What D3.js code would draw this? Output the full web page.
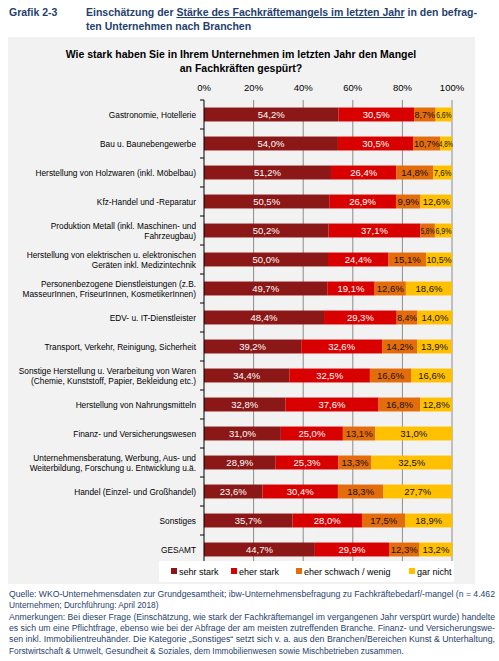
<!DOCTYPE html>
<meta charset="utf-8">
<script src="https://d3js.org/d3.v7.min.js"></script>
<style>
  body { margin: 0; background: #fff; font-family: "Liberation Sans", Arial, sans-serif; }
</style>
<div id="chart"></div>
<script>
    var branchen = ["Gastronomie, Hotellerie", "Bau u. Baunebengewerbe", "Herstellung von Holzwaren (inkl. Möbelbau)",
        "Kfz-Handel und -Reparatur", "Produktion Metall (inkl. Maschinen- und|Fahrzeugbau)",
        "Herstellung von elektrischen u. elektronischen|Geräten inkl. Medizintechnik",
        "Personenbezogene Dienstleistungen (z.B.|MasseurInnen, FriseurInnen, KosmetikerInnen)",
        "EDV- u. IT-Dienstleister", "Transport, Verkehr, Reinigung, Sicherheit",
        "Sonstige Herstellung u. Verarbeitung von Waren|(Chemie, Kunststoff, Papier, Bekleidung etc.)",
        "Herstellung von Nahrungsmitteln", "Finanz- und Versicherungswesen",
        "Unternehmensberatung, Werbung, Aus- und|Weiterbildung, Forschung u. Entwicklung u.ä.",
        "Handel (Einzel- und Großhandel)", "Sonstiges", "GESAMT"];
    var sehrStark = [54.2, 54.0, 51.2, 50.5, 50.2, 50.0, 49.7, 48.4, 39.2, 34.4, 32.8, 31.0, 28.9, 23.6, 35.7, 44.7];
    var eherStark = [30.5, 30.5, 26.4, 26.9, 37.1, 24.4, 19.1, 29.3, 32.6, 32.5, 37.6, 25.0, 25.3, 30.4, 28.0, 29.9];
    var eherSchwach = [8.7, 10.7, 14.8, 9.9, 5.8, 15.1, 12.6, 8.4, 14.2, 16.6, 16.8, 13.1, 13.3, 18.3, 17.5, 12.3];
    var garNicht = [6.6, 4.8, 7.6, 12.6, 6.9, 10.5, 18.6, 14.0, 13.9, 16.6, 12.8, 31.0, 32.5, 27.7, 18.9, 13.2];
    var kategorien = ["sehr stark", "eher stark", "eher schwach / wenig", "gar nicht"];
    var farben = ["#8b1717", "#d90000", "#e46c0a", "#ffc000"];
    var tickWerte = [0, 20, 40, 60, 80, 100];

    var W = 499, H = 661;
    var svg = d3.select("#chart").append("svg").attr("width", W).attr("height", H);

    // header
    svg.append("text").attr("x", 9).attr("y", 16).attr("font-size", 10.5).attr("font-weight", "bold")
        .attr("fill", "#1f3f6e").text("Grafik 2-3");
    var t1 = svg.append("text").attr("x", 86).attr("y", 16).attr("font-size", 10.5).attr("font-weight", "bold").attr("fill", "#1f3f6e");
    t1.append("tspan").text("Einschätzung der ");
    t1.append("tspan").attr("text-decoration", "underline").text("Stärke des Fachkräftemangels im letzten Jahr");
    t1.append("tspan").text(" in den befrag-");
    svg.append("text").attr("x", 86).attr("y", 30).attr("font-size", 10.5).attr("font-weight", "bold")
        .attr("fill", "#1f3f6e").text("ten Unternehmen nach Branchen");

    // panel
    svg.append("rect").attr("x", 8).attr("y", 37).attr("width", 467).attr("height", 547).attr("fill", "#f2f2f2");
    svg.append("text").attr("x", 241).attr("y", 58).attr("text-anchor", "middle").attr("font-size", 10.5)
        .attr("font-weight", "bold").text("Wie stark haben Sie in Ihrem Unternehmen im letzten Jahr den Mangel");
    svg.append("text").attr("x", 241).attr("y", 72).attr("text-anchor", "middle").attr("font-size", 10.5)
        .attr("font-weight", "bold").text("an Fachkräften gespürt?");

    var x = d3.scaleLinear().domain([0, 100]).range([204, 452]);
    var y = d3.scaleBand().domain(d3.range(branchen.length)).range([100, 564]).paddingInner(0.52).paddingOuter(0.26);

    // grid
    svg.append("g").selectAll("line").data(tickWerte.slice(1)).join("line")
        .attr("x1", d => x(d)).attr("x2", d => x(d)).attr("y1", 100).attr("y2", 564)
        .attr("stroke", "#8c8c8c").attr("stroke-width", 1);
    svg.append("g").selectAll("text").data(tickWerte).join("text")
        .attr("x", d => x(d)).attr("y", 91).attr("text-anchor", "middle").attr("font-size", 9.5)
        .text(d => d + "%");

    var data = branchen.map((b, i) => [sehrStark[i], eherStark[i], eherSchwach[i], garNicht[i]]);
    var fmt = v => d3.format(".1f")(v).replace(".", ",") + "%";

    data.forEach(function (vals, i) {
        var cum = 0;
        var g = svg.append("g");
        vals.forEach(function (v, k) {
            var w = x(cum + v) - x(cum);
            g.append("rect").attr("x", x(cum)).attr("y", y(i)).attr("width", w)
                .attr("height", y.bandwidth()).attr("fill", farben[k]);
            var t = g.append("text").attr("x", x(cum + v / 2)).attr("y", y(i) + y.bandwidth() / 2 + 3.6)
                .attr("text-anchor", "middle").attr("font-size", 9.5)
                .attr("fill", k < 2 ? "#fff" : "#111").text(fmt(v));
            var tw = t.node().getComputedTextLength();
            if (tw > w - 1) {
                t.attr("textLength", Math.max(w - 1, 14)).attr("lengthAdjust", "spacingAndGlyphs");
            }
            cum += v;
        });
        var lines = branchen[i].split("|");
        var cy = y(i) + y.bandwidth() / 2;
        lines.forEach(function (l, j) {
            svg.append("text").attr("x", 196).attr("y", cy + 3 + (j - (lines.length - 1) / 2) * 10)
                .attr("text-anchor", "end").attr("font-size", 8.3).text(l);
        });
    });

    // axis line with ticks between rows
    svg.append("line").attr("x1", 204).attr("x2", 204).attr("y1", 100).attr("y2", 564).attr("stroke", "#000");
    svg.append("g").selectAll("line").data(d3.range(branchen.length + 1)).join("line")
        .attr("x1", 200).attr("x2", 204)
        .attr("y1", d => 100 + d * y.step()).attr("y2", d => 100 + d * y.step()).attr("stroke", "#000");

    // legend
    svg.append("rect").attr("x", 159).attr("y", 561).attr("width", 295).attr("height", 21).attr("fill", "#fff");
    var lx = [171, 231, 296, 409];
    kategorien.forEach(function (k, i) {
        svg.append("rect").attr("x", lx[i]).attr("y", 568).attr("width", 6).attr("height", 6).attr("fill", farben[i]);
        svg.append("text").attr("x", lx[i] + 8).attr("y", 575).attr("font-size", 9).text(k);
    });

    // footer
    var notes = ["Quelle: WKO-Unternehmensdaten zur Grundgesamtheit; ibw-Unternehmensbefragung zu Fachkräftebedarf/-mangel (n = 4.462",
        "Unternehmen; Durchführung: April 2018)",
        "Anmerkungen: Bei dieser Frage (Einschätzung, wie stark der Fachkräftemangel im vergangenen Jahr verspürt wurde) handelte",
        "es sich um eine Pflichtfrage, ebenso wie bei der Abfrage der am meisten zutreffenden Branche. Finanz- und Versicherungswe-",
        "sen inkl. Immobilientreuhänder. Die Kategorie „Sonstiges“ setzt sich v. a. aus den Branchen/Bereichen Kunst & Unterhaltung,",
        "Forstwirtschaft & Umwelt, Gesundheit & Soziales, dem Immobilienwesen sowie Mischbetrieben zusammen."];
    notes.forEach(function (n, i) {
        svg.append("text").attr("x", 9).attr("y", 597 + i * 11.3).attr("font-size", 8.3)
            .attr("fill", "#1f3f6e").attr("textLength", i == 1 || i == 5 ? null : 486)
            .attr("lengthAdjust", "spacingAndGlyphs").text(n);
    });
</script>
